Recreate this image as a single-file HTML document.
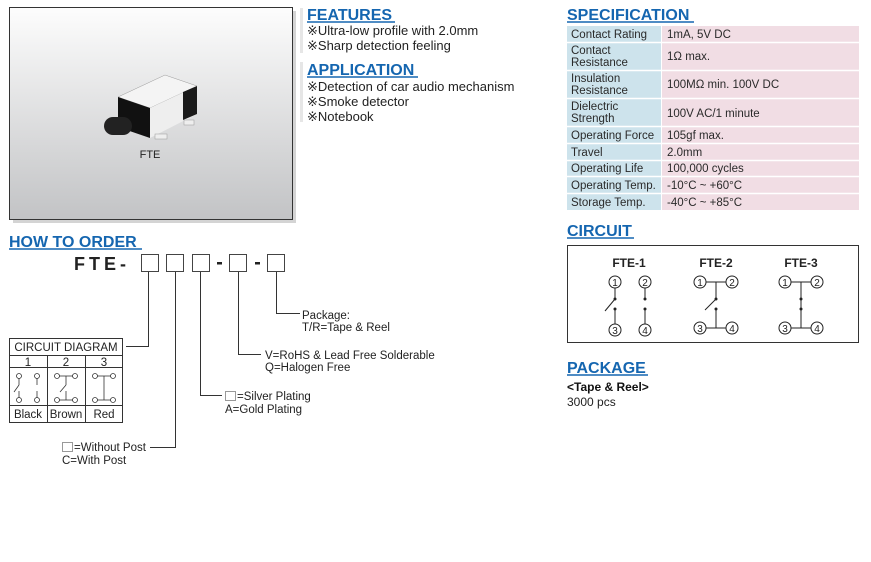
<!DOCTYPE html>
<html><head><meta charset="utf-8"><style>
html,body{margin:0;padding:0;background:#fff;}
svg{display:block;font-family:"Liberation Sans",Arial,sans-serif;}
</style></head><body>
<svg width="871" height="562" viewBox="0 0 871 562" xmlns="http://www.w3.org/2000/svg">
<defs>
<linearGradient id="g" x1="0" y1="0" x2="0" y2="1"><stop offset="0" stop-color="#fdfdfd"/><stop offset="1" stop-color="#c2c3c5"/></linearGradient>
</defs>
<rect x="13" y="11" width="283" height="212" fill="#d4d4d4"/>
<rect x="9.5" y="7.5" width="283" height="212" fill="url(#g)" stroke="#333" stroke-width="1"/>
<polygon points="118,97 165,75 197,86 150,108" fill="#f4f4f4" stroke="#999" stroke-width="0.5"/>
<polygon points="118,97 150,108 150,138 118,127" fill="#111"/>
<polygon points="150,108 197,86 197,114 150,138" fill="#eee"/>
<polygon points="183,92 197,86 197,114 183,120" fill="#1a1a1a"/>
<rect x="104" y="117" width="28" height="18" rx="9" fill="#222"/>
<rect x="155" y="134" width="12" height="5" fill="#eee" stroke="#999" stroke-width="0.5"/>
<rect x="184" y="120" width="10" height="5" fill="#eee" stroke="#999" stroke-width="0.5"/>
<text x="150" y="158" font-size="11" text-anchor="middle" fill="#222">FTE</text>

<rect x="300" y="8" width="3" height="45" fill="#e6e6e6"/>
<rect x="300" y="62" width="3" height="60" fill="#e6e6e6"/>
<g fill="#1566b0" font-weight="bold" font-size="16">
<text x="307" y="20">FEATURES</text>
<text x="307" y="75">APPLICATION</text>
<text x="9" y="247">HOW TO ORDER</text>
<text x="567" y="20">SPECIFICATION</text>
<text x="567" y="236">CIRCUIT</text>
<text x="567" y="373">PACKAGE</text>
</g>
<g stroke="#1566b0" stroke-width="1.5">
<line x1="307" y1="22" x2="395" y2="22"/><line x1="307" y1="77" x2="418" y2="77"/>
<line x1="9" y1="249" x2="142" y2="249"/><line x1="567" y1="22" x2="694" y2="22"/>
<line x1="567" y1="238" x2="634" y2="238"/><line x1="567" y1="375" x2="648" y2="375"/>
</g>
<g font-size="13" fill="#222">
<text x="307" y="35">※Ultra-low profile with 2.0mm</text>
<text x="307" y="50">※Sharp detection feeling</text>
<text x="307" y="91">※Detection of car audio mechanism</text>
<text x="307" y="106">※Smoke detector</text>
<text x="307" y="121">※Notebook</text>
</g>

<g>
<rect x="567" y="26" width="94" height="184" fill="#cde3ec"/>
<rect x="662" y="26" width="197" height="184" fill="#f1dde4"/>
<g stroke="#fff" stroke-width="1.5">
<line x1="567" y1="42.5" x2="859" y2="42.5"/><line x1="567" y1="70.5" x2="859" y2="70.5"/>
<line x1="567" y1="98.5" x2="859" y2="98.5"/><line x1="567" y1="126.5" x2="859" y2="126.5"/>
<line x1="567" y1="143.5" x2="859" y2="143.5"/><line x1="567" y1="160.5" x2="859" y2="160.5"/>
<line x1="567" y1="176.5" x2="859" y2="176.5"/><line x1="567" y1="193.5" x2="859" y2="193.5"/>
</g>
<g font-size="11.5" fill="#2a2a2a">
<text x="571" y="38">Contact Rating</text><text x="667" y="38">1mA, 5V DC</text>
<text x="571" y="54">Contact</text><text x="571" y="66">Resistance</text><text x="667" y="60">1Ω max.</text>
<text x="571" y="82">Insulation</text><text x="571" y="94">Resistance</text><text x="667" y="88">100MΩ min. 100V DC</text>
<text x="571" y="110">Dielectric</text><text x="571" y="122">Strength</text><text x="667" y="117">100V AC/1 minute</text>
<text x="571" y="139">Operating Force</text><text x="667" y="139">105gf max.</text>
<text x="571" y="156">Travel</text><text x="667" y="156">2.0mm</text>
<text x="571" y="172">Operating Life</text><text x="667" y="172">100,000 cycles</text>
<text x="571" y="189">Operating Temp.</text><text x="667" y="189">-10°C ~ +60°C</text>
<text x="571" y="206">Storage Temp.</text><text x="667" y="206">-40°C ~ +85°C</text>
</g>
</g>

<rect x="567.5" y="245.5" width="291" height="97" fill="#fff" stroke="#333"/>
<g font-size="12" font-weight="bold" fill="#222" text-anchor="middle">
<text x="629" y="267">FTE-1</text><text x="716" y="267">FTE-2</text><text x="801" y="267">FTE-3</text>
</g>
<g fill="none" stroke="#222" stroke-width="1">
<circle cx="615" cy="282" r="6"/><circle cx="645" cy="282" r="6"/><circle cx="615" cy="330" r="6"/><circle cx="645" cy="330" r="6"/>
<line x1="615" y1="288" x2="615" y2="299"/><line x1="615" y1="309" x2="615" y2="324"/><line x1="615" y1="299" x2="605" y2="311"/>
<line x1="645" y1="288" x2="645" y2="299"/><line x1="645" y1="309" x2="645" y2="324"/>
<circle cx="700" cy="282" r="6"/><circle cx="732" cy="282" r="6"/><circle cx="700" cy="328" r="6"/><circle cx="732" cy="328" r="6"/>
<line x1="706" y1="282" x2="726" y2="282"/><line x1="706" y1="328" x2="726" y2="328"/>
<line x1="716" y1="282" x2="716" y2="299"/><line x1="716" y1="309" x2="716" y2="328"/><line x1="716" y1="299" x2="705" y2="310"/>
<circle cx="785" cy="282" r="6"/><circle cx="817" cy="282" r="6"/><circle cx="785" cy="328" r="6"/><circle cx="817" cy="328" r="6"/>
<line x1="791" y1="282" x2="811" y2="282"/><line x1="791" y1="328" x2="811" y2="328"/>
<line x1="801" y1="282" x2="801" y2="328"/>
</g>
<g fill="#222"><circle cx="615" cy="299" r="1.5"/><circle cx="615" cy="309" r="1.5"/><circle cx="645" cy="299" r="1.5"/><circle cx="645" cy="309" r="1.5"/><circle cx="716" cy="299" r="1.5"/><circle cx="716" cy="309" r="1.5"/><circle cx="801" cy="299" r="1.5"/><circle cx="801" cy="309" r="1.5"/></g>
<g font-size="10" fill="#222" text-anchor="middle">
<text x="615" y="286">1</text><text x="645" y="286">2</text><text x="615" y="334">3</text><text x="645" y="334">4</text>
<text x="700" y="286">1</text><text x="732" y="286">2</text><text x="700" y="332">3</text><text x="732" y="332">4</text>
<text x="785" y="286">1</text><text x="817" y="286">2</text><text x="785" y="332">3</text><text x="817" y="332">4</text>
</g>

<text x="567" y="391" font-size="12" font-weight="bold" fill="#111">&lt;Tape &amp; Reel&gt;</text>
<text x="567" y="406" font-size="12" fill="#222">3000 pcs</text>

<text x="74" y="270" font-size="18" font-weight="bold" fill="#222" letter-spacing="4">FTE-</text>
<g fill="#fff" stroke="#444" stroke-width="1">
<rect x="141.5" y="254.5" width="17" height="17"/><rect x="166.5" y="254.5" width="17" height="17"/><rect x="192.5" y="254.5" width="17" height="17"/>
<rect x="229.5" y="254.5" width="17" height="17"/><rect x="267.5" y="254.5" width="17" height="17"/>
</g>
<rect x="217" y="262" width="5" height="2.5" fill="#222"/><rect x="255" y="262" width="5" height="2.5" fill="#222"/>
<g fill="none" stroke="#333" stroke-width="1">
<polyline points="148.5,272 148.5,346.5 126,346.5"/>
<polyline points="175.5,272 175.5,447.5 150,447.5"/>
<polyline points="200.5,272 200.5,395.5 222,395.5"/>
<polyline points="238.5,272 238.5,354.5 261,354.5"/>
<polyline points="276.5,272 276.5,313.5 300,313.5"/>
</g>
<g font-size="11.5" fill="#222">
<text x="302" y="319">Package:</text><text x="302" y="331">T/R=Tape &amp; Reel</text>
<text x="265" y="359">V=RoHS &amp; Lead Free Solderable</text><text x="265" y="371">Q=Halogen Free</text>
<text x="237" y="400">=Silver Plating</text><text x="225" y="413">A=Gold Plating</text>
<text x="74" y="451">=Without Post</text><text x="62" y="464">C=With Post</text>
</g>
<rect x="225.5" y="391.5" width="10" height="9" fill="#fff" stroke="#999"/>
<rect x="62.5" y="442.5" width="10" height="9" fill="#fff" stroke="#999"/>

<g fill="none" stroke="#333" stroke-width="1">
<rect x="9.5" y="338.5" width="113" height="84"/>
<line x1="9" y1="355.5" x2="123" y2="355.5"/><line x1="9" y1="367.5" x2="123" y2="367.5"/><line x1="9" y1="405.5" x2="123" y2="405.5"/>
<line x1="47.5" y1="355" x2="47.5" y2="423"/><line x1="85.5" y1="355" x2="85.5" y2="423"/>
</g>
<g font-size="11.5" fill="#222" text-anchor="middle">
<text x="66" y="351">CIRCUIT DIAGRAM</text>
<text x="28" y="366">1</text><text x="66" y="366">2</text><text x="104" y="366">3</text>
<text x="28" y="418">Black</text><text x="66" y="418">Brown</text><text x="104" y="418">Red</text>
</g>
<g fill="none" stroke="#333" stroke-width="0.8">
<circle cx="19" cy="376" r="2.5"/><circle cx="37" cy="376" r="2.5"/><circle cx="19" cy="400" r="2.5"/><circle cx="37" cy="400" r="2.5"/>
<line x1="19" y1="378" x2="19" y2="385"/><line x1="19" y1="391" x2="19" y2="398"/><line x1="19" y1="385" x2="14" y2="392"/>
<line x1="37" y1="378" x2="37" y2="385"/><line x1="37" y1="391" x2="37" y2="398"/>
<circle cx="57" cy="376" r="2.5"/><circle cx="75" cy="376" r="2.5"/><circle cx="57" cy="400" r="2.5"/><circle cx="75" cy="400" r="2.5"/>
<line x1="59" y1="376" x2="73" y2="376"/><line x1="59" y1="400" x2="73" y2="400"/>
<line x1="66" y1="376" x2="66" y2="385"/><line x1="66" y1="391" x2="66" y2="400"/><line x1="66" y1="385" x2="60" y2="392"/>
<circle cx="95" cy="376" r="2.5"/><circle cx="113" cy="376" r="2.5"/><circle cx="95" cy="400" r="2.5"/><circle cx="113" cy="400" r="2.5"/>
<line x1="97" y1="376" x2="111" y2="376"/><line x1="97" y1="400" x2="111" y2="400"/>
<line x1="104" y1="376" x2="104" y2="400"/>
</g>
</svg>
</body></html>
